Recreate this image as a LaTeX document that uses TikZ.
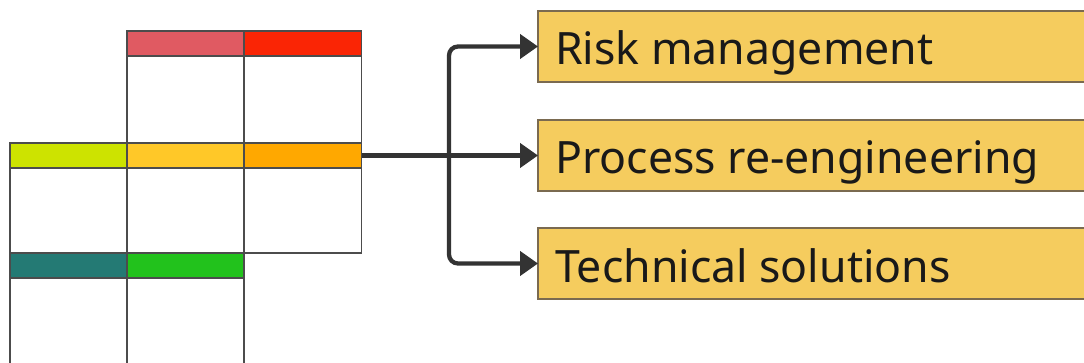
\documentclass[tikz,border=0pt]{standalone}
\usepackage{fontspec}
\setmainfont{Noto Sans}
\usetikzlibrary{arrows.meta}
\definecolor{cPink}{HTML}{E05A62}
\definecolor{cRed}{HTML}{FA2505}
\definecolor{cLime}{HTML}{CDE300}
\definecolor{cAmber}{HTML}{FFC828}
\definecolor{cOrange}{HTML}{FFA800}
\definecolor{cTeal}{HTML}{247A74}
\definecolor{cGreen}{HTML}{22C21C}
\definecolor{boxFill}{HTML}{F5CC5E}
\definecolor{boxLine}{HTML}{7A6A50}
\definecolor{linkCol}{HTML}{333333}
\tikzset{
  cell/.style={draw=black!70, line width=1.2pt, anchor=north west,
    inner sep=0pt, outer sep=0pt, minimum width=117pt},
  hdr/.style={cell, minimum height=25pt},
  bodycell/.style={cell, fill=white},
  topic/.style={draw=boxLine, line width=1.2pt, fill=boxFill, anchor=north west,
    inner sep=0pt, outer sep=0pt, minimum width=560pt, minimum height=71pt},
  label/.style={anchor=base west, inner sep=0pt, text=black!90,
    font=\fontsize{44.6}{50}\selectfont},
  link/.style={draw=linkCol, line width=4.3pt, rounded corners=9pt,
    -{Triangle[length=18pt, width=24pt]}}
}
\begin{document}
\begin{tikzpicture}[x=1pt, y=-1pt]
\useasboundingbox (0,0) rectangle (1084,362);
\clip (0,0) rectangle (1084,362);
\fill[white] (0,0) rectangle (1084,362);
% grid bodies
\node[bodycell, minimum height=87pt] (b11) at (127,56) {};
\node[bodycell, minimum height=87pt] (b12) at (244.5,56) {};
\node[bodycell, minimum height=85pt] (b20) at (10,168) {};
\node[bodycell, minimum height=85pt] (b21) at (127,168) {};
\node[bodycell, minimum height=85pt] (b22) at (244.5,168) {};
\node[bodycell, minimum height=90pt] (b30) at (10,278) {};
\node[bodycell, minimum height=90pt] (b31) at (127,278) {};
% coloured headers
\node[hdr, fill=cPink] (hPink) at (127,31) {};
\node[hdr, fill=cRed] (hRed) at (244.5,31) {};
\node[hdr, fill=cLime] (hLime) at (10,143) {};
\node[hdr, fill=cAmber] (hAmber) at (127,143) {};
\node[hdr, fill=cOrange] (hOrange) at (244.5,143) {};
\node[hdr, fill=cTeal] (hTeal) at (10,253) {};
\node[hdr, fill=cGreen] (hGreen) at (127,253) {};
% topic boxes
\node[topic] (risk) at (538,11) {};
\node[topic] (proc) at (538,120) {};
\node[topic] (tech) at (538,228) {};
\node[label] (tRisk) at (555,64) {Risk management};
\node[label] (tProc) at (555,173) {Process re-engineering};
\node[label] (tTech) at (555,282) {Technical solutions};
% connectors
\coordinate (fork) at (449,155.5);
\draw[link] (hOrange.east) -- (proc.west);
\draw[link] (fork) |- (risk.west);
\draw[link] (fork) |- (tech.west);
\end{tikzpicture}
\end{document}
